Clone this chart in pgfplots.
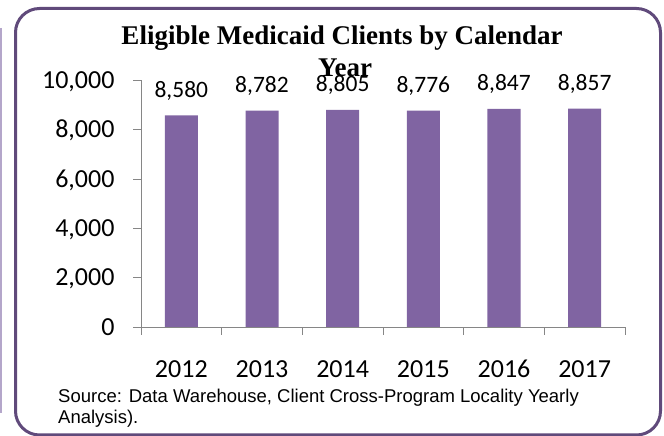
\documentclass[border=0pt]{standalone}
\usepackage{fontspec}
\usepackage{pgfplots}
\pgfplotsset{compat=1.18}
\setmainfont{Carlito}
\newfontfamily\titlefont{Liberation Serif}
\newfontfamily\srcfont{Liberation Sans}
\definecolor{barpurple}{RGB}{128,100,162}
\definecolor{borderpurple}{RGB}{96,74,123}
\definecolor{lightpurple}{RGB}{180,166,202}
\definecolor{axisgray}{RGB}{134,134,134}
\begin{document}
\begin{tikzpicture}
\useasboundingbox (0pt,0pt) rectangle (664pt,436pt);
\begin{scope}
\clip (0pt,0pt) rectangle (664pt,436pt);
\draw[lightpurple, line width=2.5pt] (1.2pt,408pt) -- (1.2pt,23pt);
\draw[borderpurple, line width=3pt, rounded corners=24pt] (15.5pt,1pt) rectangle (660.5pt,427.5pt);
\end{scope}
\begin{axis}[
  at={(141pt,109pt)}, anchor=south west,
  scale only axis, width=484pt, height=246.5pt,
  xmin=-0.5, xmax=5.5, ymin=0, ymax=10000,
  axis x line*=bottom, axis y line*=left,
  axis line style={axisgray, line width=0.75pt, -},
  ytick={0,2000,4000,6000,8000,10000},
  scaled y ticks=false,
  xtick={0,1,2,3,4,5}, xticklabels={2012,2013,2014,2015,2016,2017},
  minor xtick={-0.5,0.5,1.5,2.5,3.5,4.5,5.5},
  major x tick style={draw=none},
  tick style={axisgray, line width=0.75pt},
  tick align=outside,
  major tick length=8pt, minor tick length=8pt,
  /pgf/number format/fixed,
  /pgf/number format/1000 sep={,},
  /pgf/number format/assume math mode=true,
  ticklabel style={font=\fontsize{26}{30}\selectfont, black},
  yticklabel style={xshift=-15pt, text height=16.4pt, text depth=0pt},
  xticklabel style={yshift=-22pt, text height=16.5pt, text depth=0pt},
  ybar, bar width=33pt,
  nodes near coords,
  every node near coord/.append style={font=\fontsize{23.5}{28}\selectfont, black, anchor=base, yshift=18pt},
  clip=false,
]
\addplot[fill=barpurple, draw=none] coordinates {(0,8580) (1,8782) (2,8805) (3,8776) (4,8847) (5,8857)};
\end{axis}
\node[font=\titlefont\bfseries\fontsize{27}{30}\selectfont, anchor=base, inner sep=0pt] at (342pt,391pt) {Eligible Medicaid Clients by Calendar};
\node[font=\titlefont\bfseries\fontsize{27}{30}\selectfont, anchor=base, inner sep=0pt] at (345pt,359pt) {Year};
\node[font=\srcfont\fontsize{18.5}{21}\selectfont, anchor=base west, inner sep=0pt] at (58pt,33pt) {Source: Data Warehouse, Client Cross-Program Locality Yearly};
\node[font=\srcfont\fontsize{18.5}{21}\selectfont, anchor=base west, inner sep=0pt] at (58pt,12pt) {Analysis).};
\end{tikzpicture}
\end{document}
